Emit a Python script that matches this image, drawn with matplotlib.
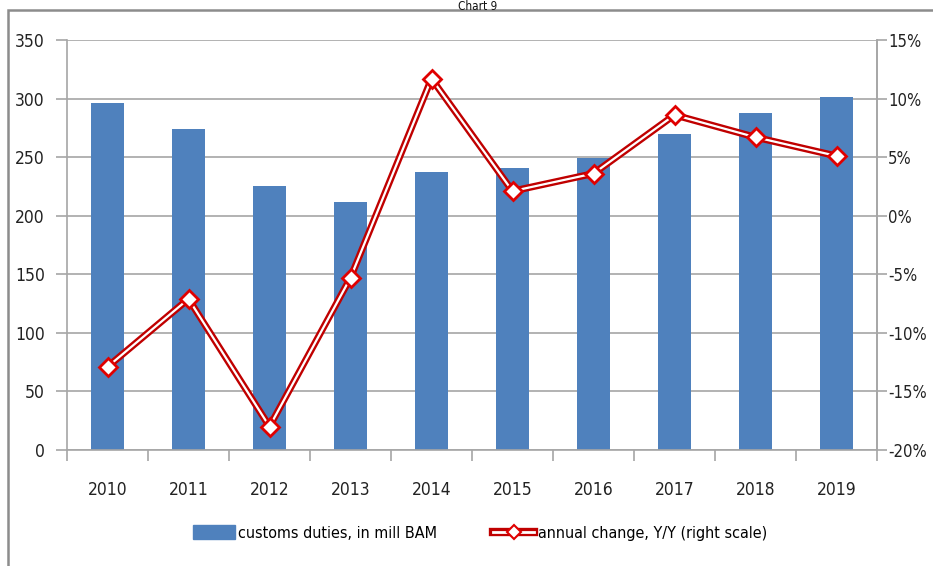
import numpy as np
import matplotlib.pyplot as plt
from matplotlib import ticker
from matplotlib.patches import Rectangle
from matplotlib.lines import Line2D

plt.rcParams['font.family'] = ['DejaVu Sans']
plt.rcParams['font.stretch'] = 'condensed'

years = ['2010', '2011', '2012', '2013', '2014', '2015', '2016', '2017', '2018', '2019']
duties = [296, 274, 225, 212, 237, 241, 249, 270, 288, 301]          # mill BAM
change = [-12.9, -7.1, -18.0, -5.3, 11.7, 2.1, 3.6, 8.6, 6.7, 5.1]   # %, right scale

bar_col = '#4F81BD'
red = '#C00000'
grid_col = '#A6A6A6'

fig = plt.figure(figsize=(9.33, 5.66), dpi=100)
ax = fig.add_axes([67/933, 1-450/566, 810/933, 410/566])

x = np.arange(len(years))
ax.bar(x, duties, width=0.40, color=bar_col, zorder=2)

ax.set_xlim(-0.5, len(years)-0.5)
ax.set_ylim(0, 350)
ax.yaxis.set_major_locator(ticker.MultipleLocator(50))
ax.grid(axis='y', color=grid_col, lw=1.2, zorder=0)
ax.set_axisbelow(True)

ax.set_xticks(x)
ax.set_xticklabels(years)
ax.xaxis.set_minor_locator(ticker.FixedLocator(np.arange(-0.5, len(years), 1)))
ax.tick_params(axis='x', which='major', length=0, pad=22, labelsize=12.5, colors='#222222')
ax.tick_params(axis='x', which='minor', length=8, color=grid_col, width=1.2)
ax.tick_params(axis='y', length=8, color=grid_col, width=1.2, labelsize=12.5, pad=8, labelcolor='#222222')
for s in ['left', 'bottom', 'right']:
    ax.spines[s].set_color(grid_col)
    ax.spines[s].set_linewidth(1.2)
ax.spines['top'].set_visible(False)

# yearly change on the right-hand axis, drawn as a hollow red double line
ax2 = ax.twinx()
ax2.set_ylim(-20, 15)
ax2.yaxis.set_major_locator(ticker.MultipleLocator(5))
ax2.yaxis.set_major_formatter(ticker.FuncFormatter(lambda v, p: '%d%%' % round(v)))
ax2.plot(x, change, color=red, lw=5, zorder=3, solid_joinstyle='miter')
ax2.plot(x, change, color='white', lw=1.6, zorder=4, solid_joinstyle='miter')
ax2.plot(x, change, ls='none', marker='D', ms=9, mfc='white', mec='#E00000', mew=2, zorder=5)
ax2.tick_params(axis='y', length=7, color=grid_col, width=1.2, labelsize=12, pad=1, labelcolor='#222222')
for s in ['left', 'bottom', 'top']:
    ax2.spines[s].set_visible(False)
ax2.spines['right'].set_color(grid_col)
ax2.spines['right'].set_linewidth(1.2)

# outer frame and title above it
fig.patches.append(Rectangle((8/933, -0.1), 1.2, 1.1 - 10/566, transform=fig.transFigure,
                             fill=False, ec='#8C8C8C', lw=1.8))
fig.text(478/933, 1 - 0.5/566, 'Chart 9', ha='center', va='top', fontsize=8.5, color='#111111')

h1 = Rectangle((0, 0), 1, 1, color=bar_col)
h2a = Line2D([], [], color=red, lw=6)
h2b = Line2D([], [], color='white', lw=2, marker='D', ms=7, mfc='white', mec='#E00000', mew=1.5)
fig.legend([h1, (h2a, h2b)], ['customs duties, in mill BAM', 'annual change, Y/Y (right scale)'],
           loc='center', bbox_to_anchor=(480/933, 1 - 533/566), ncol=2, frameon=False,
           fontsize=11.5, handlelength=2.6, handleheight=1.0, handletextpad=0.2, columnspacing=3.5)

fig.savefig('out.png', dpi=100)
